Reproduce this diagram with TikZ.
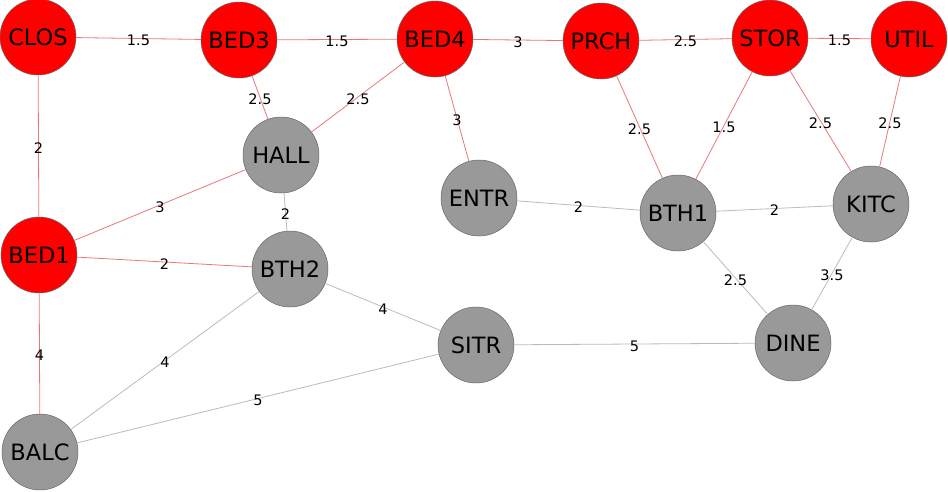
\documentclass[tikz,border=0pt]{standalone}
\usepackage{fontspec}
\setmainfont{DejaVu Sans}
\definecolor{nodered}{HTML}{FF0000}
\definecolor{nodegray}{HTML}{999999}
\definecolor{edgered}{HTML}{E87878}
\definecolor{edgegray}{HTML}{BBBBBB}
\begin{document}
\begin{tikzpicture}[x=1pt,y=-1pt,
  vtx/.style={circle,minimum size=76pt,inner sep=0pt,draw=black!60,line width=0.5pt,font=\fontsize{22.5}{24}\selectfont},
  rv/.style={vtx,fill=nodered},
  gv/.style={vtx,fill=nodegray},
  re/.style={draw=edgered,line width=0.8pt},
  ge/.style={draw=edgegray,line width=0.8pt},
  wl/.style={midway,yshift=-2pt,inner sep=0pt,font=\fontsize{14.5}{16}\selectfont}]
\useasboundingbox (0,0) rectangle (948,491);
\node[rv] (CLOS) at (38,37) {CLOS};
\node[rv] (BED3) at (239,40) {BED3};
\node[rv] (BED4) at (435,39) {BED4};
\node[rv] (PRCH) at (601,41) {PRCH};
\node[rv] (STOR) at (770,38) {STOR};
\node[rv] (UTIL) at (909,39) {UTIL};
\node[gv] (HALL) at (281,155) {HALL};
\node[gv] (ENTR) at (479,198) {ENTR};
\node[gv] (BTH1) at (678,213) {BTH1};
\node[gv] (KITC) at (871,204) {KITC};
\node[rv] (BED1) at (39,255) {BED1};
\node[gv] (BTH2) at (290,269) {BTH2};
\node[gv] (SITR) at (476,345) {SITR};
\node[gv] (DINE) at (793,343) {DINE};
\node[gv] (BALC) at (40,452) {BALC};
% edges
\path[re] (CLOS) -- node[wl]{1.5} (BED3);
\path[re] (BED3) -- node[wl]{1.5} (BED4);
\path[re] (BED4) -- node[wl]{3} (PRCH);
\path[re] (PRCH) -- node[wl]{2.5} (STOR);
\path[re] (STOR) -- node[wl]{1.5} (UTIL);
\path[re] (CLOS) -- node[wl]{2} (BED1);
\path[re] (BED3) -- node[wl]{2.5} (HALL);
\path[re] (BED4) -- node[wl]{2.5} (HALL);
\path[re] (BED4) -- node[wl]{3} (ENTR);
\path[re] (PRCH) -- node[wl]{2.5} (BTH1);
\path[re] (STOR) -- node[wl]{1.5} (BTH1);
\path[re] (STOR) -- node[wl]{2.5} (KITC);
\path[re] (UTIL) -- node[wl]{2.5} (KITC);
\path[re] (BED1) -- node[wl]{3} (HALL);
\path[re] (BED1) -- node[wl]{2} (BTH2);
\path[re] (BED1) -- node[wl]{4} (BALC);
\path[ge] (HALL) -- node[wl]{2} (BTH2);
\path[ge] (ENTR) -- node[wl]{2} (BTH1);
\path[ge] (BTH1) -- node[wl]{2} (KITC);
\path[ge] (BTH1) -- node[wl]{2.5} (DINE);
\path[ge] (KITC) -- node[wl]{3.5} (DINE);
\path[ge] (BTH2) -- node[wl]{4} (SITR);
\path[ge] (BTH2) -- node[wl]{4} (BALC);
\path[ge] (BALC) -- node[wl]{5} (SITR);
\path[ge] (SITR) -- node[wl]{5} (DINE);
\end{tikzpicture}
\end{document}
